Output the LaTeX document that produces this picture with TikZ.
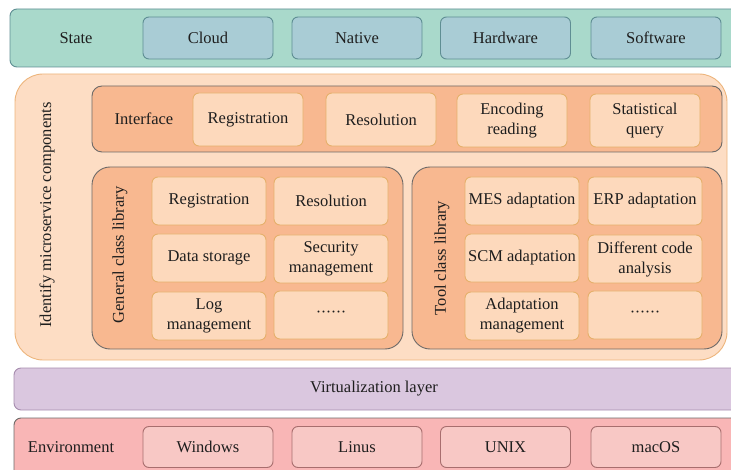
\documentclass[tikz,border=0pt]{standalone}
\usepackage{fontspec}
\setmainfont{Liberation Serif}
\newfontfamily\labelfont{Liberation Serif}
\definecolor{stateband}{HTML}{A9D9CB}
\definecolor{statebox}{HTML}{A9CCD5}
\definecolor{stateline}{HTML}{5F8E93}
\definecolor{peach}{HTML}{FDDDC4}
\definecolor{peachline}{HTML}{EDB57C}
\definecolor{apricot}{HTML}{F8B890}
\definecolor{itembox}{HTML}{FDD9BC}
\definecolor{itemline}{HTML}{E6B06C}
\definecolor{greyline}{HTML}{6E6A68}
\definecolor{virtfill}{HTML}{DAC7DF}
\definecolor{virtline}{HTML}{A68CAE}
\definecolor{envfill}{HTML}{F9B6B6}
\definecolor{envbox}{HTML}{F8C8C5}
\definecolor{envline}{HTML}{A86E6E}
\definecolor{txt}{HTML}{1E1E1E}
\newcommand{\ellipsisdots}{\raisebox{2pt}{\textperiodcentered\kern-0.5pt\textperiodcentered\kern-0.5pt\textperiodcentered\kern-0.5pt\textperiodcentered\kern-0.5pt\textperiodcentered\kern-0.5pt\textperiodcentered}}
\begin{document}
\begin{tikzpicture}[x=1pt,y=-1pt,
  every node/.style={text=txt,font=\labelfont\fontsize{16.5}{20}\selectfont,align=center},
  band/.style={draw=greyline,line width=0.9pt,rounded corners=7pt},
  statecell/.style={draw=stateline,fill=statebox,line width=0.9pt,rounded corners=6pt,minimum width=130pt,minimum height=42pt},
  envcell/.style={draw=envline,fill=envbox,line width=0.9pt,rounded corners=6pt,minimum width=130pt,minimum height=41pt},
  itemcell/.style={draw=itemline,fill=itembox,line width=0.9pt,rounded corners=6pt,minimum width=110pt,minimum height=53pt,inner sep=1pt},
  libcell/.style={draw=itemline,fill=itembox,line width=0.9pt,rounded corners=6pt,minimum width=114pt,minimum height=48pt,inner sep=1pt},
  container/.style={draw=greyline,fill=apricot,line width=0.9pt,rounded corners=18pt}]
\useasboundingbox (0,0) rectangle (731,470);
\clip (0,0) rectangle (731,470);

% state layer
\draw[band,draw=stateline,fill=stateband] (10,9) rectangle (745,67);
\node (state) at (76,38) {State};
\node[statecell] (cloud) at (208,38) {Cloud};
\node[statecell] (native) at (357,38) {Native};
\node[statecell] (hardware) at (505.5,38) {Hardware};
\node[statecell] (software) at (656,38) {Software};

% microservice components
\draw[draw=peachline,fill=peach,line width=0.9pt,rounded corners=28pt] (15,74) rectangle (727,360);
\node[rotate=90] (identify) at (47,215) {Identify microservice components};

% interface row
\draw[band,fill=apricot,rounded corners=10pt] (92,86) rectangle (722,152);
\node (interface) at (144,119) {Interface};
\node[itemcell] (ireg) at (248,119.5) {Registration};
\node[itemcell] (ires) at (381,119.5) {Resolution};
\node[itemcell] (ienc) at (512,120.5) {Encoding\\reading};
\node[itemcell] (istat) at (645,120.5) {Statistical\\query};

% general class library
\draw[container] (92,167) rectangle (403,349);
\node[rotate=90] (general) at (120,255) {General class library};
\node[libcell] (greg) at (209,201) {Registration};
\node[libcell] (gres) at (331,201) {Resolution};
\node[libcell] (gdata) at (209,258) {Data storage};
\node[libcell] (gsec) at (331,259) {Security\\management};
\node[libcell] (glog) at (209,316) {Log\\management};
\node[libcell] (gmore) at (331,315) {\ellipsisdots};

% tool class library
\draw[container] (412,167) rectangle (722,349);
\node[rotate=90] (tool) at (442,258) {Tool class library};
\node[libcell] (tmes) at (522,201) {MES adaptation};
\node[libcell] (terp) at (645,201) {ERP adaptation};
\node[libcell] (tscm) at (522,258) {SCM adaptation};
\node[libcell] (tdiff) at (645,259) {Different code\\analysis};
\node[libcell] (tadapt) at (522,316) {Adaptation\\management};
\node[libcell] (tmore) at (645,315) {\ellipsisdots};

% virtualization layer
\draw[band,draw=virtline,fill=virtfill] (14,368) rectangle (745,410);
\node (virt) at (374,389) {Virtualization layer};

% environment layer
\draw[band,fill=envfill] (14,418) rectangle (745,482);
\node (env) at (71,447) {Environment};
\node[envcell] (windows) at (208,447) {Windows};
\node[envcell] (linus) at (357,447) {Linus};
\node[envcell] (unix) at (505.5,447) {UNIX};
\node[envcell] (macos) at (656,447) {macOS};
\end{tikzpicture}
\end{document}
